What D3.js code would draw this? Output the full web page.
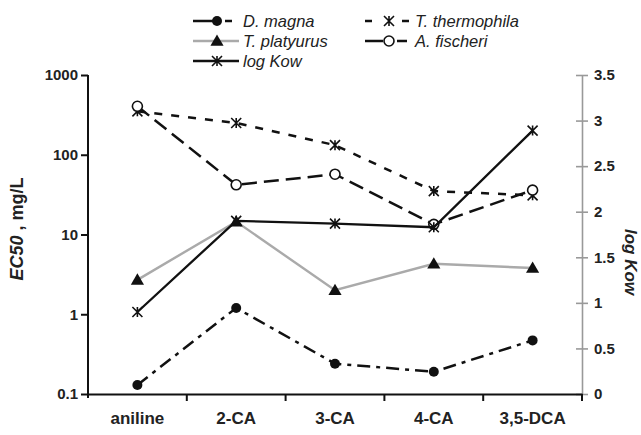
<!DOCTYPE html>
<html><head><meta charset="utf-8">
<script src="https://cdn.jsdelivr.net/npm/d3@7"></script>
<style>
body{margin:0;background:#fff;}
text{font-family:"Liberation Sans",Arial,sans-serif;}
</style></head>
<body><svg id="c" width="641" height="435"></svg>
<script>
const categories = ["aniline","2-CA","3-CA","4-CA","3,5-DCA"];
const dMagna = [0.13, 1.2, 0.24, 0.19, 0.47];
const tPlatyurus = [2.7, 14.5, 2.0, 4.3, 3.8];
const tThermophila = [350, 250, 132, 35, 31];
const aFischeri = [405, 42, 57, 13.4, 36];
const logKow = [0.9, 1.9, 1.87, 1.83, 2.89];
const leftTicks = [0.1, 1, 10, 100, 1000];
const rightTicks = [0, 0.5, 1, 1.5, 2, 2.5, 3, 3.5];

const svg = d3.select("#c");
const L = 88, R = 582, T = 75, B = 394;
const x = d3.scaleBand().domain(categories).range([L, R]);
const yL = d3.scaleLog().domain([0.1, 1000]).range([B, T]);
const yR = d3.scaleLinear().domain([0, 3.5]).range([B, T]);
const cx = c => x(c) + x.bandwidth() / 2;

// left axis
const gl = svg.append("g").attr("transform", `translate(${L},0)`)
  .call(d3.axisLeft(yL).tickValues(leftTicks).tickFormat(d => d3.format("")(d)).tickSize(7).tickSizeOuter(0));
gl.select(".domain").attr("stroke", "#111").attr("stroke-width", 2).attr("d", `M0,${T}V${B+4}`);
gl.selectAll(".tick line").attr("stroke", "#111").attr("stroke-width", 2);
gl.selectAll(".tick text").attr("font-size", 15).attr("font-weight", "bold").attr("fill", "#222").attr("x", -10);

// right axis (gray)
const gr = svg.append("g").attr("transform", `translate(${R},0)`)
  .call(d3.axisRight(yR).tickValues(rightTicks).tickFormat(d => d3.format("")(d)).tickSize(6).tickSizeOuter(0));
gr.select(".domain").attr("stroke", "#999").attr("stroke-width", 1.6);
gr.selectAll(".tick line").attr("stroke", "#999").attr("stroke-width", 1.6).attr("x1", -6);
gr.selectAll(".tick text").attr("font-size", 15).attr("font-weight", "bold").attr("fill", "#222").attr("x", 12);

// bottom axis
const gb = svg.append("g").attr("transform", `translate(0,${B})`)
  .call(d3.axisBottom(x).tickSize(0).tickSizeOuter(0));
gb.select(".domain").attr("stroke", "#111").attr("stroke-width", 2);
gb.selectAll(".tick text").attr("font-size", 17).attr("font-weight", "bold").attr("fill", "#222").attr("dy", 0).attr("y", 30);
const bounds = categories.slice(1).map(c => x(c)).concat([R]);
gb.selectAll(".btick").data(bounds).join("line").attr("class", "btick")
  .attr("x1", d => d).attr("x2", d => d).attr("y1", 0).attr("y2", 7)
  .attr("stroke", "#111").attr("stroke-width", 2);

// axis titles
const t1 = svg.append("text").attr("transform", `translate(23,229) rotate(-90)`)
  .attr("text-anchor", "middle").attr("font-size", 18).attr("font-weight", "bold").attr("fill", "#222");
t1.append("tspan").attr("font-style", "italic").text("EC50");
t1.append("tspan").text(" , mg/L");
svg.append("text").attr("transform", `translate(625,262) rotate(90)`)
  .attr("text-anchor", "middle").attr("font-size", 17).attr("font-weight", "bold").attr("font-style", "italic").attr("fill", "#222")
  .text("log Kow");

// markers
const star = s => `M${-s},${-s}L${s},${s}M${-s},${s}L${s},${-s}M0,${-s}L0,${s}`;
function marker(g, type) {
  if (type === "dot") g.append("circle").attr("r", 5).attr("fill", "#111");
  else if (type === "tri") g.append("path").attr("d", d3.symbol(d3.symbolTriangle, 75)()).attr("fill", "#111").attr("transform", "translate(0,1)");
  else if (type === "open") g.append("circle").attr("r", 5).attr("fill", "#fff").attr("stroke", "#111").attr("stroke-width", 1.6);
  else if (type === "star") g.append("path").attr("d", star(5)).attr("fill", "none").attr("stroke", "#111").attr("stroke-width", 1.6);
}

const series = [
  {name: "D. magna", vals: dMagna, y: yL, color: "#111", dash: "13,6,4,6", legDash: "22,10,7,20", mk: "dot", w: 2.5},
  {name: "T. platyurus", vals: tPlatyurus, y: yL, color: "#aaa", dash: null, legDash: null, mk: "tri", w: 2.4},
  {name: "T. thermophila", vals: tThermophila, y: yL, color: "#111", dash: "8,9", legDash: "7,30,7,20", mk: "star", w: 2.5},
  {name: "A. fischeri", vals: aFischeri, y: yL, color: "#111", dash: "15,7", legDash: "18,14,10,20", mk: "open", w: 2.5},
  {name: "log Kow", vals: logKow, y: yR, color: "#111", dash: null, legDash: null, mk: "star", w: 2.3},
];

const line = d3.line();
series.forEach(s => {
  const pts = categories.map((c, i) => [cx(c), s.y(s.vals[i])]);
  svg.append("path").attr("d", line(pts)).attr("fill", "none").attr("stroke", s.color)
    .attr("stroke-width", s.w).attr("stroke-dasharray", s.dash);
  pts.forEach(p => marker(svg.append("g").attr("transform", `translate(${p[0]},${p[1]})`), s.mk));
});

// legend
const legendPos = {
  "D. magna": [193, 21], "T. platyurus": [193, 41], "log Kow": [193, 61],
  "T. thermophila": [365, 21], "A. fischeri": [365, 41]
};
series.forEach(s => {
  const [lx, ly] = legendPos[s.name];
  const g = svg.append("g").attr("transform", `translate(${lx},${ly})`);
  g.append("line").attr("x1", 0).attr("x2", 46).attr("y1", 0).attr("y2", 0)
    .attr("stroke", s.color).attr("stroke-width", s.w).attr("stroke-dasharray", s.legDash);
  marker(g.append("g").attr("transform", "translate(24,0)"), s.mk);
  g.append("text").attr("x", 50).attr("y", 5.5).attr("font-size", 16.5).attr("font-style", "italic").attr("fill", "#222").text(s.name);
});
</script></body></html>
